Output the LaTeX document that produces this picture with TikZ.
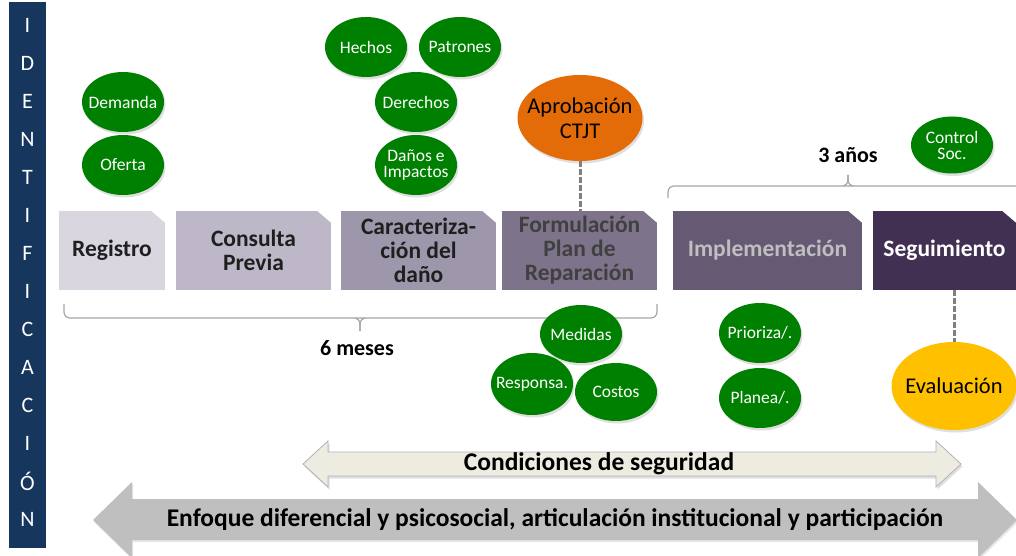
\documentclass[tikz,border=0pt]{standalone}
\usepackage{fontspec}
\setmainfont{Carlito}
\usetikzlibrary{positioning}
\usetikzlibrary{shapes.geometric}
\usetikzlibrary{shadows}

\definecolor{barblue}{RGB}{23,54,93}
\definecolor{stepA}{RGB}{217,214,223}
\definecolor{stepB}{RGB}{189,183,199}
\definecolor{stepC}{RGB}{158,150,171}
\definecolor{stepD}{RGB}{125,115,138}
\definecolor{stepE}{RGB}{102,89,116}
\definecolor{stepF}{RGB}{65,48,82}
\definecolor{leafgreen}{RGB}{0,128,0}
\definecolor{approval}{RGB}{227,108,9}
\definecolor{review}{RGB}{255,192,0}
\definecolor{cream}{RGB}{238,236,225}
\definecolor{bandgray}{RGB}{191,191,191}

\begin{document}
\begin{tikzpicture}[
  x=1pt, y=-1pt,
  phase/.style = {rectangle, minimum height=79, inner sep=2, align=center,
    font=\fontsize{23.5}{24}\selectfont\bfseries, text=black!88},
  leaf/.style = {ellipse, fill=leafgreen, minimum width=82, minimum height=60,
    inner xsep=-10pt, inner ysep=0, align=center, text=white,
    font=\fontsize{17.5}{16}\selectfont,
    drop shadow={opacity=0.25, shadow xshift=1.5pt, shadow yshift=-2.5pt}},
  big/.style = {leaf, minimum width=125, minimum height=86, text=black,
    font=\fontsize{22.5}{25}\selectfont},
  letter/.style = {text=white, font=\fontsize{22}{22}\selectfont},
  span/.style = {draw=black!35, line width=1.2pt, rounded corners=6pt},
  link/.style = {draw=black!50, line width=3pt, dash pattern=on 6pt off 2pt},
  title/.style = {font=\fontsize{25.5}{26}\selectfont\bfseries, text=black}
]

  \useasboundingbox (0,0) rectangle (1016,556);
  \fill[white] (0,0) rectangle (1016,556);
  \clip (0,0) rectangle (1016,556);

  % side bar
  \fill[barblue] (9,2) rectangle (46,548);
  \foreach \l [count=\i] in {I,D,E,N,T,I,F,I,C,A,C,I,Ó,N}
    \node[letter] (l\i) at (27.5,-13+38*\i) {\l};

  % phases
  \node[phase, fill=stepA, minimum width=106] (reg) at (112,250.5) {Registro};
  \node[phase, fill=stepB, minimum width=155] (con) at (253.5,250.5) {Consulta\\Previa};
  \node[phase, fill=stepC, minimum width=155] (car) at (418.5,250.5) {Caracteriza-\\ción del\\daño};
  \node[phase, fill=stepD, minimum width=155, text=black!75] (for) at (579.5,250.5) {Formulación\\Plan de\\Reparación};
  \node[phase, fill=stepE, minimum width=189, text=black!25] (imp) at (767.5,250.5) {Implementación};
  \node[phase, fill=stepF, minimum width=143, text=white] (seg) at (944.5,250.5) {Seguimiento};
  \foreach \n in {reg,con,car,for,imp,seg}
    \fill[white] ([xshift=-14pt]\n.north east) -- (\n.north east) -- ([yshift=-12pt]\n.north east) -- cycle;

  % braces
  \draw[span] (64,304) |- (354,318) -| (360,331);
  \draw[span] (657,304) |- (366,318) -| (360,331);
  \node[title, font=\fontsize{22}{22}\selectfont\bfseries] (meses) at (357,348) {6 meses};
  \draw[span] (668,198) |- (842,186) -| (848,175);
  \draw[span] (1030,198) |- (854,186) -| (848,175);
  \node[title, font=\fontsize{22}{22}\selectfont\bfseries] (anos) at (848,155) {3 años};

  % ellipses
  \node[leaf] (dem) at (123,102) {Demanda};
  \node[leaf] (ofe) at (123,165) {Oferta};
  \node[leaf] (hec) at (366,47) {Hechos};
  \node[leaf] (pat) at (460,47) {Patrones};
  \node[leaf] (der) at (416,102) {Derechos};
  \node[leaf] (dan) at (416,165) {Daños e\\Impactos};
  \node[big, fill=approval] (apr) at (580,118) {Aprobación\\CTJT};
  \node[leaf, minimum height=58] (med) at (581,334) {Medidas};
  \node[leaf, minimum height=62] (res) at (532,384) {Responsa.};
  \node[leaf, minimum height=58] (cos) at (616,392) {Costos};
  \node[leaf] (pri) at (760,333) {Prioriza/.};
  \node[leaf] (pla) at (760,398) {Planea/.};
  \node[leaf, minimum height=57] (ctl) at (952,145) {Control\\Soc.};
  \node[big, fill=review, minimum height=88] (eva) at (954,386) {Evaluación};

  \draw[link] (apr.south) -- (apr.south |- for.north);
  \draw[link] (eva.north |- seg.south) -- (eva.north);

  % bands
  \fill[bandgray, drop shadow={opacity=0.2, shadow xshift=1pt, shadow yshift=-2pt}]
    (93,520) -- (132,482) -- (132,499) -- (978,499) -- (978,482) -- (1017,520)
    -- (978,558) -- (978,540) -- (132,540) -- (132,558) -- cycle;
  \node[title] (enf) at (555,520) {Enfoque diferencial y psicosocial, articulación institucional y participación};
  \filldraw[fill=cream, draw=black!30, line width=0.8pt,
    drop shadow={opacity=0.25, shadow xshift=1.5pt, shadow yshift=-2.5pt}]
    (303,464) -- (328,441) -- (328,452) -- (936,452) -- (936,441) -- (961,464)
    -- (936,487) -- (936,476) -- (328,476) -- (328,487) -- cycle;
  \node[title] (cond) at (599,464) {Condiciones de seguridad};

\end{tikzpicture}
\end{document}
